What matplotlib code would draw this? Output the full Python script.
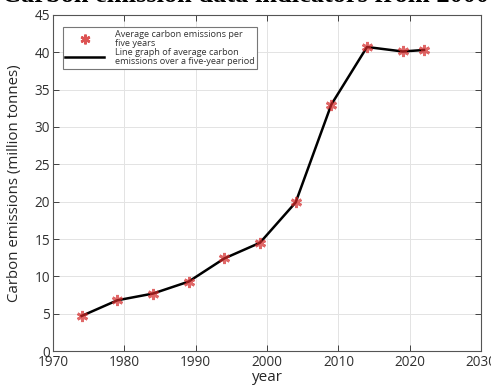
import matplotlib
matplotlib.use("Agg")
import matplotlib.pyplot as plt
from matplotlib.lines import Line2D

years = [1974, 1979, 1984, 1989, 1994, 1999, 2004, 2009, 2014, 2019, 2022]
emissions = [4.7, 6.8, 7.7, 9.3, 12.4, 14.5, 19.9, 33.0, 40.7, 40.1, 40.3]
xticks = [1970, 1980, 1990, 2000, 2010, 2020, 2030]
yticks = [0, 5, 10, 15, 20, 25, 30, 35, 40, 45]

title_text = "Carbon emission data indicators from 2000"
xlabel_text = "year"
ylabel_text = "Carbon emissions (million tonnes)"
legend_marker_text = "Average carbon emissions per\nfive years"
legend_line_text = "Line graph of average carbon\nemissions over a five-year period"

plt.rcParams['font.family'] = ['Open Sans', 'DejaVu Sans']

fig = plt.figure(figsize=(4.91, 3.91), dpi=100)
ax = fig.add_axes([0.108, 0.102, 0.872, 0.860])

ax.plot(years, emissions, color='black', lw=1.8, zorder=3)
ax.plot(years, emissions, linestyle='none', marker=(6, 2, 0), markersize=8,
        markeredgecolor='#d42828', markeredgewidth=2.0, alpha=0.7, zorder=4)

ax.set_xlim(1970, 2030)
ax.set_ylim(0, 45)
ax.set_xticks(xticks)
ax.set_yticks(yticks)
ax.tick_params(direction='in', top=True, right=True, labelsize=9.8,
               length=4, width=0.7, colors='#404040', labelcolor='#303030', pad=2)
ax.tick_params(axis='x', pad=3)
ax.grid(True, color='#e3e3e3', lw=0.7)
ax.set_axisbelow(True)
for s in ax.spines.values():
    s.set_color('#555555')
    s.set_linewidth(0.8)

ax.set_xlabel(xlabel_text, fontsize=11, color='#262626', labelpad=0)
ax.set_ylabel(ylabel_text, fontsize=10.8, color='#262626', labelpad=9)

handles = [
    Line2D([], [], linestyle='none', marker=(6, 2, 0), markersize=7,
           markeredgecolor='#d42828', markeredgewidth=1.8, alpha=0.8),
    Line2D([], [], color='black', lw=1.8),
]
leg = ax.legend(handles, [legend_marker_text, legend_line_text],
                loc='upper left', bbox_to_anchor=(0.012, 0.978), fontsize=6.6,
                fancybox=False, framealpha=1, edgecolor='#777777',
                handlelength=4.2, handletextpad=1.2, borderpad=0.3,
                labelspacing=0.05)
leg.get_frame().set_linewidth(0.8)
for t in leg.get_texts():
    t.set_color('#333333')
    t.set_linespacing(1.0)

fig.text(0.5, 1.012, title_text, ha='center', va='center', fontsize=19,
         fontweight='bold', family='Liberation Serif', color='black')

fig.savefig('out.png', dpi=100)
